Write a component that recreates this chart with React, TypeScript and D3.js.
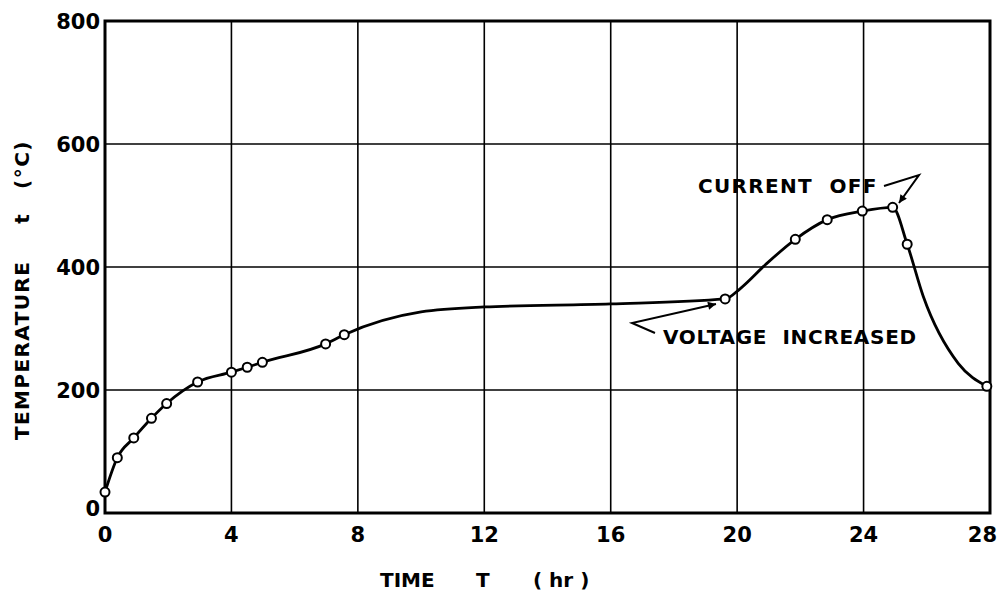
import * as d3 from 'd3';
import { useEffect, useRef } from 'react';

// measured points (open circles)
const hours = [0, 0.39, 0.91, 1.47, 1.95, 2.93, 4.0, 4.5, 4.98, 6.98, 7.57, 19.62, 21.84, 22.85, 23.96, 24.92, 25.38, 27.9];
const temps = [34, 90, 122, 154, 178, 213, 229, 237, 245, 275, 290, 348, 445, 477, 491, 497, 437, 206];

// extra points the hand-drawn curve passes through (no marker)
const curveHours = [10, 12, 16, 20.1, 20.9, 25.89, 27.0];
const curveTemps = [327, 335, 340, 365, 404, 352, 243];

const xTicks = [0, 4, 8, 12, 16, 20, 24, 28];
const yTicks = [0, 200, 400, 600, 800];

const W = 998;
const H = 595;
const margin = { top: 21, right: 8, bottom: 82, left: 105 };
const font = '"DejaVu Sans", sans-serif';

function App() {
  const ref = useRef<SVGSVGElement>(null);

  useEffect(() => {
    const svg = d3.select(ref.current);
    svg.selectAll('*').remove();

    const x = d3.scaleLinear().domain([0, 28]).range([margin.left, W - margin.right]);
    const y = d3.scaleLinear().domain([0, 800]).range([H - margin.bottom, margin.top]);

    const defs = svg.append('defs');
    defs.append('marker')
      .attr('id', 'head')
      .attr('viewBox', '0 0 10 10')
      .attr('refX', 10).attr('refY', 5)
      .attr('markerWidth', 6).attr('markerHeight', 4)
      .attr('markerUnits', 'strokeWidth')
      .attr('orient', 'auto')
      .append('path').attr('d', 'M0,0 L10,5 L0,10 z').attr('fill', '#000');

    const g = svg.append('g');

    // grid
    g.selectAll('.vx').data(xTicks.slice(1, -1)).enter().append('line')
      .attr('x1', d => x(d)).attr('x2', d => x(d))
      .attr('y1', y(800)).attr('y2', y(0))
      .attr('stroke', '#000').attr('stroke-width', 1.6);
    g.selectAll('.hy').data(yTicks.slice(1, -1)).enter().append('line')
      .attr('x1', x(0)).attr('x2', x(28))
      .attr('y1', d => y(d)).attr('y2', d => y(d))
      .attr('stroke', '#000').attr('stroke-width', 1.6);

    // frame
    g.append('rect')
      .attr('x', x(0)).attr('y', y(800))
      .attr('width', x(28) - x(0)).attr('height', y(0) - y(800))
      .attr('fill', 'none').attr('stroke', '#000').attr('stroke-width', 3);

    // tick labels
    g.selectAll('.xt').data(xTicks).enter().append('text')
      .attr('x', d => d === 28 ? W - 1 : x(d)).attr('y', y(0) + 29)
      .attr('text-anchor', d => d === 28 ? 'end' : 'middle')
      .attr('font-family', font).attr('font-weight', 'bold').attr('font-size', 21)
      .text(d => d);
    g.selectAll('.yt').data(yTicks).enter().append('text')
      .attr('x', x(0) - 5).attr('y', d => d === 0 ? y(d) + 3 : y(d) + 8)
      .attr('text-anchor', 'end')
      .attr('font-family', font).attr('font-weight', 'bold').attr('font-size', 21)
      .text(d => d);

    // axis titles
    const title = (t: string, xx: number) => g.append('text')
      .attr('x', xx).attr('y', 587)
      .attr('font-family', font).attr('font-weight', 'bold').attr('font-size', 20)
      .attr('xml:space', 'preserve')
      .text(t);
    title('TIME', 380);
    title('T', 476);
    title('( hr )', 533);

    const yt = g.append('g').attr('transform', 'translate(29, 0) rotate(-90)')
      .attr('font-family', font).attr('font-weight', 'bold').attr('font-size', 20);
    yt.append('text').attr('x', -440).attr('letter-spacing', 1.4).text('TEMPERATURE');
    yt.append('text').attr('x', -219).attr('text-anchor', 'middle').text('t');
    yt.append('text').attr('x', -140).attr('text-anchor', 'end').attr('letter-spacing', 1.5).text('(°C)');

    // curve
    const pts = hours.map((h, i) => [h, temps[i]] as [number, number])
      .concat(curveHours.map((h, i) => [h, curveTemps[i]] as [number, number]))
      .sort((a, b) => a[0] - b[0]);
    const line = d3.line<[number, number]>()
      .x(d => x(d[0])).y(d => y(d[1]))
      .curve(d3.curveMonotoneX);
    g.append('path').attr('d', line(pts))
      .attr('fill', 'none').attr('stroke', '#000').attr('stroke-width', 2.8)
      .attr('stroke-linejoin', 'round');

    g.selectAll('.pt').data(hours).enter().append('circle')
      .attr('cx', d => x(d)).attr('cy', (_, i) => y(temps[i]))
      .attr('r', 4.5)
      .attr('fill', '#fff').attr('stroke', '#000').attr('stroke-width', 2);

    // annotations
    g.append('text')
      .attr('x', 698).attr('y', 193)
      .attr('font-family', font).attr('font-weight', 'bold').attr('font-size', 20)
      .attr('letter-spacing', 1.3)
      .attr('xml:space', 'preserve')
      .text('CURRENT  OFF');
    g.append('path')
      .attr('d', 'M884,186 L919,175 L899,203')
      .attr('fill', 'none').attr('stroke', '#000').attr('stroke-width', 2)
      .attr('marker-end', 'url(#head)');

    g.append('text')
      .attr('x', 663).attr('y', 344)
      .attr('font-family', font).attr('font-weight', 'bold').attr('font-size', 20)
      .attr('letter-spacing', 0.7)
      .attr('xml:space', 'preserve')
      .text('VOLTAGE  INCREASED');
    g.append('path')
      .attr('d', 'M655,333 L632,323 L716,304')
      .attr('fill', 'none').attr('stroke', '#000').attr('stroke-width', 2)
      .attr('marker-end', 'url(#head)');
  }, []);

  return <svg ref={ref} width={W} height={H}
    style={{ position: 'absolute', left: 0, top: 0, background: '#fff' }} />;
}

export default App;
